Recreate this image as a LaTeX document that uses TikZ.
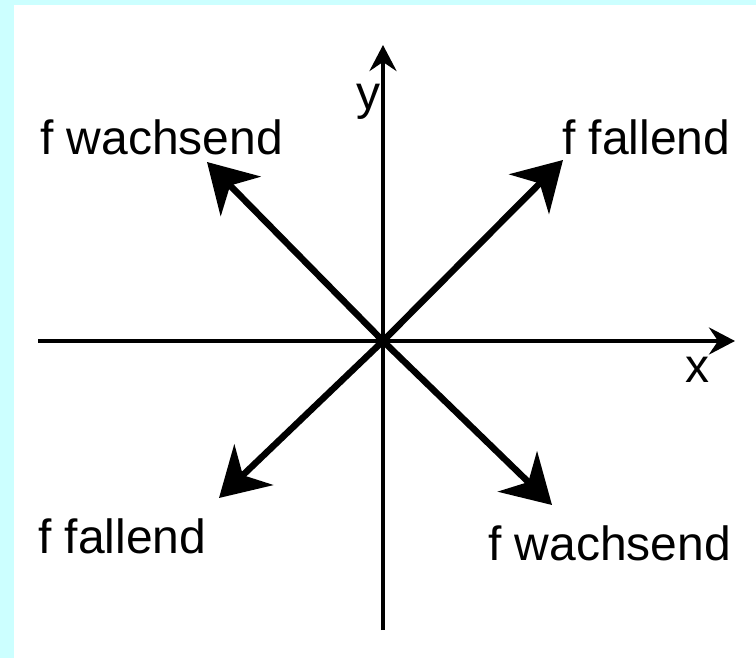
\documentclass[tikz,border=0pt]{standalone}
\usepackage{fontspec}
\setmainfont{Liberation Sans}
\usetikzlibrary{arrows.meta}
\definecolor{frame}{HTML}{CCFFFF}
\tikzset{
  every node/.style={font=\fontsize{48}{58}\selectfont, inner sep=0pt},
  axis/.style={
    -{Stealth[length=26pt,width=27pt,inset=9pt]},
    line width=4.5pt
  },
  dirarrow/.style={
    -{Stealth[length=48pt,width=56pt,inset=15pt]},
    line width=6.5pt
  },
  lbl/.style={anchor=base west},
}

\begin{document}
\begin{tikzpicture}[x=1pt, y=-1pt]
  \fill[frame] (0,0) rectangle (756,658);
  \fill[white] (14,5) rectangle (756,658);
  \useasboundingbox (0,0) rectangle (756,658);

  % axes
  \coordinate (o) at (383,341);
  \coordinate (xl) at (38,341);
  \coordinate (xr) at (735,341);
  \coordinate (yb) at (383,630);
  \coordinate (yt) at (383,45);
  \draw[axis] (xl) -- (xr);
  \draw[axis] (yb) -- (yt);
  \node[anchor=base] (xlab) at (697,382) {x};
  \node[anchor=base] (ylab) at (368,110) {y};

  % directions
  \coordinate (ul) at (207,162);
  \coordinate (ur) at (563,160);
  \coordinate (dl) at (219,498);
  \coordinate (dr) at (552,505);
  \draw[dirarrow] (o) -- (ul);
  \draw[dirarrow] (o) -- (ur);
  \draw[dirarrow] (o) -- (dl);
  \draw[dirarrow] (o) -- (dr);

  \node[lbl] (wul) at (40,155) {f wachsend};
  \node[lbl] (fur) at (562,155) {f fallend};
  \node[lbl] (fdl) at (38,553) {f fallend};
  \node[lbl] (wdr) at (488,560) {f wachsend};
\end{tikzpicture}
\end{document}
